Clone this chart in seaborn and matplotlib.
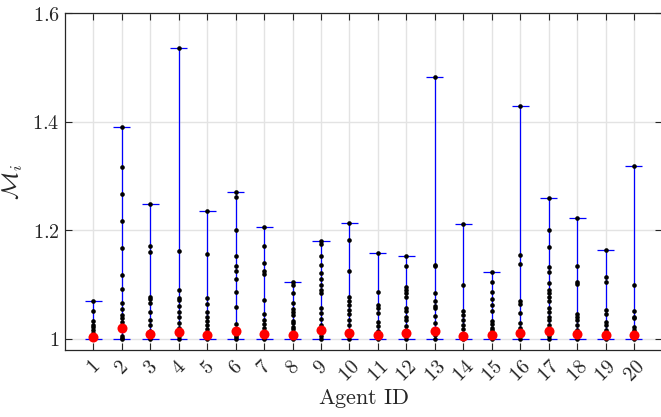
import numpy as np
import pandas as pd
import matplotlib
matplotlib.use("Agg")
import matplotlib.pyplot as plt
import seaborn as sns

# ---- data ----
agent_ids = list(range(1, 21))
agent_1 = [1.0706, 1.0516, 1.0326, 1.026, 1.0215, 1.0166, 1.0116, 1.0068, 1.003, 1.0]
agent_2 = [1.391, 1.316, 1.266, 1.218, 1.168, 1.118, 1.092, 1.066, 1.055, 1.044, 1.038, 1.032, 1.02, 1.0055, 1.002, 1.0]
agent_3 = [1.2476, 1.171, 1.160, 1.078, 1.0743, 1.066, 1.05, 1.035, 1.025, 1.015, 1.008, 1.003, 1.0]
agent_4 = [1.536, 1.162, 1.090, 1.076, 1.072, 1.061, 1.049, 1.04, 1.029, 1.02, 1.012, 1.005, 1.0]
agent_5 = [1.236, 1.157, 1.0756, 1.0645, 1.049, 1.041, 1.034, 1.026, 1.018, 1.0105, 1.005, 1.0]
agent_6 = [1.2704, 1.2605, 1.2009, 1.1524, 1.135, 1.1253, 1.111, 1.086, 1.058, 1.028, 1.0074, 1.003, 1.0]
agent_7 = [1.206, 1.171, 1.14, 1.126, 1.12, 1.072, 1.046, 1.035, 1.028, 1.02, 1.01, 1.004, 1.0]
agent_8 = [1.1045, 1.0995, 1.084, 1.067, 1.0547, 1.050, 1.044, 1.034, 1.029, 1.0227, 1.018, 1.0105, 1.004, 1.0]
agent_9 = [1.1806, 1.175, 1.153, 1.136, 1.121, 1.11, 1.0995, 1.090, 1.084, 1.0566, 1.0485, 1.036, 1.0258, 1.015, 1.006, 1.0]
agent_10 = [1.213, 1.1825, 1.126, 1.078, 1.0706, 1.0627, 1.0535, 1.046, 1.035, 1.0258, 1.0135, 1.005, 1.0]
agent_11 = [1.159, 1.087, 1.0627, 1.0566, 1.0485, 1.032, 1.024, 1.0153, 1.006, 1.0]
agent_12 = [1.153, 1.1346, 1.0964, 1.090, 1.084, 1.077, 1.0566, 1.052, 1.041, 1.035, 1.024, 1.016, 1.006, 1.0]
agent_13 = [1.482, 1.136, 1.1335, 1.084, 1.0706, 1.061, 1.0566, 1.0424, 1.029, 1.018, 1.008, 1.0]
agent_14 = [1.212, 1.0995, 1.0516, 1.044, 1.035, 1.025, 1.018, 1.01, 1.004, 1.0]
agent_15 = [1.124, 1.104, 1.087, 1.073, 1.062, 1.051, 1.0326, 1.027, 1.021, 1.016, 1.008, 1.003, 1.0]
agent_16 = [1.428, 1.155, 1.1376, 1.069, 1.0645, 1.0485, 1.030, 1.02, 1.012, 1.0]
agent_17 = [1.260, 1.201, 1.17, 1.133, 1.123, 1.1027, 1.090, 1.084, 1.078, 1.069, 1.0566, 1.050, 1.041, 1.035, 1.026, 1.017, 1.006, 1.0]
agent_18 = [1.222, 1.1346, 1.1056, 1.101, 1.046, 1.040, 1.035, 1.026, 1.017, 1.008, 1.0]
agent_19 = [1.1635, 1.114, 1.1056, 1.0535, 1.046, 1.032, 1.025, 1.016, 1.01, 1.0]
agent_20 = [1.318, 1.0995, 1.052, 1.041, 1.0387, 1.0227, 1.016, 1.01, 1.004, 1.0]
agent_means = [1.003, 1.0197, 1.0098, 1.0123, 1.008, 1.015, 1.0098, 1.0072, 1.0163, 1.011,
               1.0068, 1.0116, 1.0147, 1.0055, 1.0068, 1.011, 1.0147, 1.0085, 1.0068, 1.008]
y_ticks = [1.0, 1.2, 1.4, 1.6]
y_tick_labels = ["1", "1.2", "1.4", "1.6"]

all_agents = [agent_1, agent_2, agent_3, agent_4, agent_5, agent_6, agent_7, agent_8, agent_9, agent_10,
              agent_11, agent_12, agent_13, agent_14, agent_15, agent_16, agent_17, agent_18, agent_19, agent_20]

rows = []
for aid, vals in zip(agent_ids, all_agents):
    for v in vals:
        rows.append({"agent": aid, "M": v})
df = pd.DataFrame(rows)
rng_df = pd.DataFrame({"agent": agent_ids,
                       "lo": [min(v) for v in all_agents],
                       "hi": [max(v) for v in all_agents]})
mean_df = pd.DataFrame({"agent": agent_ids, "mean": agent_means})

# ---- style ----
sns.set_theme(style="white")
plt.rcParams["mathtext.fontset"] = "cm"
plt.rcParams["font.family"] = ["DejaVu Serif"]

fig = plt.figure(figsize=(6.61, 4.17), dpi=100)
ax = fig.add_axes([65 / 661, 1 - 350 / 417, (662.4 - 65) / 661, (350 - 13) / 417])

ax.set_xlim(0, 21)
ax.set_ylim(1 - 11 / 542.5, 1.6)

# grid
ax.set_axisbelow(True)
ax.grid(True, color="#e3e3e3", linewidth=1.0)

cap = 0.3
ax.vlines(rng_df["agent"], rng_df["lo"], rng_df["hi"], color="#0000ff", linewidth=0.9, zorder=2)
ax.hlines(rng_df["hi"], rng_df["agent"] - cap, rng_df["agent"] + cap, color="#0000ff", linewidth=0.9, zorder=2)
ax.hlines(rng_df["lo"], rng_df["agent"] - cap, rng_df["agent"] + cap, color="#0000ff", linewidth=0.9, zorder=2)

sns.scatterplot(data=df, x="agent", y="M", color="black", s=11, linewidth=0, ax=ax, zorder=3, legend=False)
sns.scatterplot(data=mean_df, x="agent", y="mean", color="#ff0000", s=52, linewidth=0, ax=ax, zorder=4, legend=False)

ax.set_xticks(agent_ids)
ax.set_xticklabels([f"${a}$" for a in agent_ids], rotation=45, ha="center", fontsize=14.5)
ax.set_yticks(y_ticks)
ax.set_yticklabels([f"${t}$" for t in y_tick_labels], fontsize=14.5)

ax.tick_params(axis="both", direction="in", length=5, width=0.8, color="#262626",
               top=True, right=True, bottom=True, left=True)
ax.tick_params(axis="x", pad=5)
ax.tick_params(axis="y", pad=4)
for s in ax.spines.values():
    s.set_color("#262626")
    s.set_linewidth(0.9)
    s.set_visible(True)

ax.set_xlabel(r"$\mathrm{Agent\ ID}$", fontsize=16, labelpad=1)
ax.set_ylabel(r"$\mathcal{M}_i$", fontsize=17, labelpad=5)

fig.savefig("out.png", dpi=100)
